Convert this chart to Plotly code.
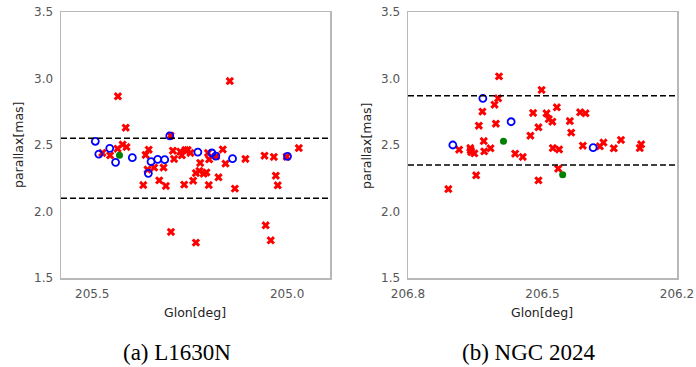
import plotly.graph_objects as go

W, H = 696, 367

# ---------------- data: (a) L1630N ----------------
a_red_glon = [205.474, 205.454, 205.434, 205.435, 205.422, 205.414, 205.412, 205.369, 205.363,
              205.355, 205.358, 205.341, 205.328, 205.317, 205.311, 205.299, 205.298, 205.293,
              205.290, 205.274, 205.270, 205.261, 205.255, 205.248, 205.264, 205.241, 205.234,
              205.234, 205.225, 205.223, 205.214, 205.207, 205.203, 205.201, 205.200, 205.182,
              205.176, 205.165, 205.158, 205.147, 205.134, 205.107, 205.058, 205.055, 205.042,
              205.034, 205.029, 205.024, 205.001, 204.970]
a_red_plx = [2.440, 2.422, 2.866, 2.472, 2.503, 2.630, 2.485, 2.199, 2.425,
             2.465, 2.315, 2.330, 2.234, 2.330, 2.192, 2.570, 1.846, 2.457,
             2.395, 2.450, 2.422, 2.462, 2.462, 2.440, 2.202, 2.232, 2.289,
             1.766, 2.305, 2.365, 2.284, 2.294, 2.440, 2.199, 2.392, 2.415,
             2.257, 2.467, 2.360, 2.981, 2.172, 2.395, 2.420, 1.896, 1.783,
             2.410, 2.269, 2.197, 2.412, 2.477]
a_blue_glon = [205.492, 205.483, 205.455, 205.440, 205.397, 205.356, 205.349, 205.332,
               205.314, 205.301, 205.229, 205.193, 205.183, 205.140, 204.999]
a_blue_plx = [2.528, 2.432, 2.475, 2.370, 2.405, 2.287, 2.375, 2.392,
              2.390, 2.568, 2.447, 2.440, 2.417, 2.397, 2.415]
a_green_glon = [205.430]
a_green_plx = [2.422]
a_limits = [2.10, 2.55]

# ---------------- data: (b) NGC 2024 ----------------
b_red_glon = [206.710, 206.686, 206.661, 206.660, 206.659, 206.652, 206.648, 206.642, 206.634,
              206.631, 206.630, 206.616, 206.607, 206.604, 206.599, 206.597, 206.561, 206.544,
              206.527, 206.521, 206.509, 206.509, 206.502, 206.491, 206.486, 206.478, 206.477,
              206.468, 206.465, 206.463, 206.439, 206.436, 206.416, 206.404, 206.410, 206.372,
              206.364, 206.341, 206.325, 206.283, 206.280]
b_red_plx = [2.169, 2.465, 2.477, 2.460, 2.447, 2.437, 2.272, 2.645, 2.751,
             2.530, 2.452, 2.475, 2.803, 2.660, 2.851, 3.016, 2.435, 2.410,
             2.570, 2.741, 2.633, 2.234, 2.914, 2.738, 2.695, 2.675, 2.477,
             2.783, 2.322, 2.467, 2.680, 2.593, 2.746, 2.738, 2.495, 2.490,
             2.518, 2.475, 2.538, 2.477, 2.505]
b_blue_glon = [206.700, 206.633, 206.570, 206.387]
b_blue_plx = [2.500, 2.851, 2.675, 2.480]
b_green_glon = [206.587, 206.455]
b_green_plx = [2.528, 2.277]
b_limits = [2.35, 2.87]

y_ticks = [1.5, 2.0, 2.5, 3.0, 3.5]
a_x_ticks = [205.5, 205.0]
b_x_ticks = [206.8, 206.5, 206.2]
a_x_range = [205.58, 204.89]
b_x_range = [206.8, 206.2]
y_range = [1.5, 3.5]

captions = ["(a) L1630N", "(b) NGC 2024"]

# ---------------- figure ----------------
fig = go.Figure()

def add_panel(xa, ya, rg, rp, bg, bp, gg, gp):
    fig.add_trace(go.Scatter(x=rg, y=rp, mode="markers", xaxis=xa, yaxis=ya,
                             marker=dict(symbol="x", size=7.5, color="red",
                                         line=dict(width=0)),
                             showlegend=False, hoverinfo="skip"))
    fig.add_trace(go.Scatter(x=bg, y=bp, mode="markers", xaxis=xa, yaxis=ya,
                             marker=dict(symbol="circle-open", size=7, color="blue",
                                         line=dict(width=1.8, color="blue")),
                             showlegend=False, hoverinfo="skip"))
    fig.add_trace(go.Scatter(x=gg, y=gp, mode="markers", xaxis=xa, yaxis=ya,
                             marker=dict(symbol="circle", size=7, color="green"),
                             showlegend=False, hoverinfo="skip"))

add_panel("x", "y", a_red_glon, a_red_plx, a_blue_glon, a_blue_plx, a_green_glon, a_green_plx)
add_panel("x2", "y2", b_red_glon, b_red_plx, b_blue_glon, b_blue_plx, b_green_glon, b_green_plx)

for lim in a_limits:
    fig.add_shape(type="line", xref="x domain", yref="y", x0=0, x1=1, y0=lim, y1=lim,
                  line=dict(color="black", width=1.5, dash="6px,3px"))
for lim in b_limits:
    fig.add_shape(type="line", xref="x2 domain", yref="y2", x0=0, x1=1, y0=lim, y1=lim,
                  line=dict(color="black", width=1.5, dash="6px,3px"))

tickfont = dict(family="DejaVu Sans", size=12, color="#555555")
box_color = "#b8b8b8"

def px_x(p):
    return p / W

def px_y(p):
    return 1 - p / H

ydom = [px_y(278), px_y(12)]
common_axis = dict(showgrid=False, zeroline=False, showline=True, mirror=True,
                   linecolor=box_color, linewidth=1.5, ticks="", tickfont=tickfont,
                   automargin=False, fixedrange=True, ticklabeloverflow="allow")

fig.update_layout(
    template="none",
    width=W, height=H,
    margin=dict(l=0, r=0, t=0, b=0, pad=0),
    paper_bgcolor="white", plot_bgcolor="white",
    hovermode=False,
    xaxis=dict(domain=[px_x(61), px_x(330)], range=a_x_range, tickvals=a_x_ticks,
               tickformat=".1f", anchor="y", ticklabelstandoff=4, **common_axis),
    yaxis=dict(domain=ydom, range=y_range, tickvals=y_ticks, tickformat=".1f",
               anchor="x", ticklabelstandoff=4, **common_axis),
    xaxis2=dict(domain=[px_x(408), px_x(677)], range=b_x_range, tickvals=b_x_ticks,
                tickformat=".1f", anchor="y2", ticklabelstandoff=4, **common_axis),
    yaxis2=dict(domain=ydom, range=y_range, tickvals=y_ticks, tickformat=".1f",
                anchor="x2", ticklabelstandoff=4, **common_axis),
)

title_font = dict(family="DejaVu Sans", size=12.5, color="#222222")
cap_font = dict(family="Liberation Serif", size=23, color="black")

ann = [
    dict(text="parallax[mas]", x=px_x(19), y=px_y(145), textangle=-90, font=title_font),
    dict(text="parallax[mas]", x=px_x(367), y=px_y(145), textangle=-90, font=title_font),
    dict(text="Glon[deg]", x=px_x(195), y=px_y(312), font=title_font),
    dict(text="Glon[deg]", x=px_x(542), y=px_y(312), font=title_font),
    dict(text=captions[0], x=px_x(177), y=px_y(352), font=cap_font),
    dict(text=captions[1], x=px_x(528), y=px_y(352), font=cap_font),
]
for a in ann:
    fig.add_annotation(xref="paper", yref="paper", showarrow=False,
                       xanchor="center", yanchor="middle", **a)

# remove the browser's default 8px page margin so the figure fills the window exactly
fig.write_html("out.html",
               config={"displayModeBar": False, "staticPlot": True},
               post_script="document.body.style.margin='0';document.body.style.overflow='hidden';")
